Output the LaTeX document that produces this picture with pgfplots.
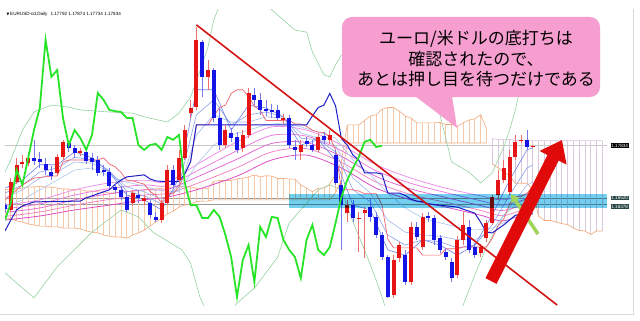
\documentclass[border=0pt]{standalone}
\usepackage{pgfplots}
\pgfplotsset{compat=1.18}
\usepackage{pgfplotstable}
\usetikzlibrary{arrows.meta,calc}
\usepackage{fontspec}
\setmainfont{Liberation Sans}
\newfontfamily\cjk{Noto Sans CJK JP}
\newfontfamily\dejavu{DejaVu Sans}

\definecolor{upc}{RGB}{230,20,20}
\definecolor{dnc}{RGB}{20,20,230}
\definecolor{upwick}{RGB}{238,110,110}
\definecolor{dnwick}{RGB}{120,120,238}
\definecolor{chikou}{RGB}{40,228,40}
\definecolor{kijun}{RGB}{30,30,200}
\definecolor{tenkan}{RGB}{240,100,110}
\definecolor{bband}{RGB}{150,210,160}
\definecolor{kumoup}{RGB}{245,200,170}
\definecolor{kumodn}{RGB}{218,200,222}
\definecolor{spanA}{RGB}{242,170,125}
\definecolor{spanB}{RGB}{216,190,216}
\definecolor{pk1}{RGB}{238,140,235}
\definecolor{pk2}{RGB}{235,120,222}
\definecolor{pk3}{RGB}{228,100,212}
\definecolor{pk4}{RGB}{242,130,195}
\definecolor{pk5}{RGB}{220,70,200}
\definecolor{bl1}{RGB}{110,130,230}
\definecolor{bl2}{RGB}{140,160,235}
\definecolor{bl3}{RGB}{160,185,240}
\definecolor{bl4}{RGB}{170,200,235}
\definecolor{bandc}{RGB}{115,207,240}
\definecolor{framec}{RGB}{150,150,150}
\definecolor{trend}{RGB}{210,20,20}
\definecolor{arrowred}{RGB}{225,10,10}
\definecolor{arrowgreen}{RGB}{160,212,90}
\definecolor{bubble}{RGB}{247,158,208}
\definecolor{boxdark}{RGB}{40,70,70}

\pgfplotsset{
  candle/.style={only marks, mark=none, mark size=0pt,
    mark options={draw=none, fill=none},
    error bars/.cd, y dir=plus, y explicit, error mark=none},
}

% daily bars: index, open, high, low, close
\pgfplotstableread{
i o h l c
1 1.1624 1.1703 1.1619 1.1693
2 1.1693 1.1753 1.1688 1.1736
3 1.1738 1.1760 1.1728 1.1743
4 1.1740 1.1768 1.1733 1.1753
9 1.1716 1.1763 1.1708 1.1755
10 1.1755 1.1798 1.1748 1.1793
13 1.1765 1.1778 1.1758 1.1770
22 1.1641 1.1674 1.1634 1.1666
24 1.1646 1.1661 1.1636 1.1654
27 1.1599 1.1649 1.1592 1.1641
28 1.1641 1.1736 1.1636 1.1723
30 1.1698 1.1773 1.1691 1.1753
31 1.1753 1.1835 1.1748 1.1822
32 1.1864 1.1897 1.1852 1.1877
33 1.1879 1.2078 1.1872 1.2046
35 1.1954 1.1996 1.1922 1.1971
38 1.1785 1.1835 1.1778 1.1822
41 1.1778 1.1822 1.1768 1.1810
42 1.1810 1.1926 1.1802 1.1914
48 1.1847 1.1862 1.1837 1.1852
51 1.1768 1.1798 1.1748 1.1785
54 1.1773 1.1815 1.1768 1.1805
56 1.1798 1.1822 1.1788 1.1810
59 1.1616 1.1649 1.1594 1.1636
61 1.1602 1.1619 1.1520 1.1604
62 1.1616 1.1631 1.1505 1.1624
67 1.1413 1.1512 1.1406 1.1500
68 1.1505 1.1545 1.1495 1.1537
70 1.1445 1.1594 1.1438 1.1582
72 1.1532 1.1616 1.1525 1.1607
78 1.1463 1.1559 1.1455 1.1550
79 1.1550 1.1619 1.1537 1.1587
82 1.1517 1.1540 1.1507 1.1532
83 1.1554 1.1599 1.1545 1.1592
84 1.1592 1.1661 1.1587 1.1656
85 1.1661 1.1723 1.1649 1.1698
86 1.1698 1.1748 1.1691 1.1728
87 1.1669 1.1773 1.1661 1.1755
88 1.1755 1.1810 1.1748 1.1793
89 1.1795 1.1810 1.1790 1.1798
91 1.1780 1.1785 1.1778 1.1783
}\upbars

\pgfplotstableread{
i o h l c
0 1.1636 1.1641 1.1619 1.1626
5 1.1753 1.1798 1.1736 1.1745
6 1.1750 1.1768 1.1728 1.1743
7 1.1738 1.1753 1.1711 1.1723
8 1.1718 1.1733 1.1698 1.1708
11 1.1790 1.1795 1.1768 1.1778
12 1.1778 1.1785 1.1753 1.1765
14 1.1768 1.1773 1.1738 1.1745
15 1.1753 1.1765 1.1723 1.1743
16 1.1748 1.1758 1.1708 1.1716
17 1.1723 1.1736 1.1708 1.1718
18 1.1718 1.1728 1.1678 1.1683
19 1.1681 1.1691 1.1666 1.1674
20 1.1674 1.1683 1.1649 1.1656
21 1.1656 1.1669 1.1619 1.1624
23 1.1661 1.1674 1.1641 1.1654
25 1.1641 1.1649 1.1604 1.1611
26 1.1607 1.1619 1.1594 1.1599
29 1.1723 1.1736 1.1678 1.1686
34 1.2041 1.2046 1.1904 1.1954
36 1.1971 1.1976 1.1842 1.1852
37 1.1852 1.1877 1.1773 1.1785
39 1.1815 1.1827 1.1793 1.1802
40 1.1805 1.1817 1.1765 1.1773
43 1.1909 1.1926 1.1884 1.1897
44 1.1897 1.1914 1.1860 1.1872
45 1.1874 1.1897 1.1857 1.1869
46 1.1872 1.1887 1.1852 1.1867
47 1.1872 1.1884 1.1847 1.1852
49 1.1852 1.1860 1.1778 1.1785
50 1.1780 1.1798 1.1748 1.1773
52 1.1795 1.1805 1.1780 1.1788
53 1.1785 1.1798 1.1768 1.1773
55 1.1807 1.1817 1.1788 1.1798
57 1.1760 1.1773 1.1686 1.1691
58 1.1686 1.1698 1.1525 1.1636
60 1.1636 1.1649 1.1594 1.1604
63 1.1631 1.1654 1.1594 1.1607
64 1.1607 1.1619 1.1554 1.1562
65 1.1562 1.1569 1.1500 1.1507
66 1.1507 1.1512 1.1406 1.1408
69 1.1512 1.1525 1.1438 1.1445
71 1.1582 1.1594 1.1550 1.1557
73 1.1609 1.1619 1.1594 1.1604
74 1.1604 1.1611 1.1537 1.1550
75 1.1554 1.1562 1.1517 1.1525
76 1.1520 1.1530 1.1500 1.1507
77 1.1495 1.1505 1.1445 1.1455
80 1.1582 1.1599 1.1517 1.1525
81 1.1532 1.1542 1.1505 1.1512
90 1.1798 1.1822 1.1773 1.1780
}\dnbars

% Ichimoku cloud per bar (lower and upper span), rising cloud
\pgfplotstableread{
i lo hi
0 1.1604 1.1674
1 1.1602 1.1676
2 1.1597 1.1676
3 1.1594 1.1678
4 1.1589 1.1681
5 1.1587 1.1681
6 1.1584 1.1683
7 1.1584 1.1681
8 1.1582 1.1681
9 1.1582 1.1678
10 1.1579 1.1676
11 1.1579 1.1676
12 1.1579 1.1674
13 1.1577 1.1674
14 1.1572 1.1671
15 1.1569 1.1671
16 1.1567 1.1669
17 1.1562 1.1669
18 1.1559 1.1666
19 1.1557 1.1666
20 1.1557 1.1669
21 1.1554 1.1669
22 1.1562 1.1671
23 1.1567 1.1671
24 1.1574 1.1674
25 1.1584 1.1676
26 1.1594 1.1676
27 1.1604 1.1678
28 1.1614 1.1678
29 1.1621 1.1681
30 1.1631 1.1683
31 1.1636 1.1681
32 1.1639 1.1681
33 1.1644 1.1678
34 1.1646 1.1677
35 1.1646 1.1677
36 1.1649 1.1695
37 1.1649 1.1697
38 1.1649 1.1697
39 1.1649 1.1697
40 1.1649 1.1701
41 1.1649 1.1703
42 1.1649 1.1706
43 1.1649 1.1711
44 1.1649 1.1706
45 1.1649 1.1709
46 1.1649 1.1708
47 1.1649 1.1702
48 1.1649 1.1702
49 1.1649 1.1701
50 1.1649 1.1700
51 1.1649 1.1686
52 1.1649 1.1678
53 1.1649 1.1669
54 1.1649 1.1678
55 1.1649 1.1678
56 1.1649 1.1688
57 1.1667 1.1713
58 1.1698 1.1744
59 1.1790 1.1835
60 1.1790 1.1835
61 1.1790 1.1835
62 1.1790 1.1846
63 1.1790 1.1857
64 1.1790 1.1860
65 1.1790 1.1874
66 1.1790 1.1878
67 1.1790 1.1878
68 1.1790 1.1869
69 1.1790 1.1857
70 1.1790 1.1852
71 1.1790 1.1840
72 1.1790 1.1840
73 1.1790 1.1840
74 1.1790 1.1840
75 1.1790 1.1841
76 1.1790 1.1836
77 1.1790 1.1836
78 1.1790 1.1832
79 1.1790 1.1840
80 1.1790 1.1847
81 1.1790 1.1850
82 1.1790 1.1860
83 1.1790 1.1827
}\kumoup

% falling cloud ahead of the last bar
\pgfplotstableread{
i lo hi
84 1.1738 1.1801
85 1.1729 1.1799
86 1.1717 1.1799
87 1.1709 1.1799
88 1.1690 1.1796
89 1.1690 1.1796
90 1.1690 1.1796
91 1.1675 1.1796
92 1.1609 1.1796
93 1.1598 1.1796
94 1.1598 1.1796
95 1.1594 1.1796
96 1.1590 1.1796
97 1.1588 1.1796
98 1.1579 1.1796
99 1.1573 1.1796
100 1.1572 1.1796
101 1.1563 1.1796
102 1.1572 1.1796
103 1.1572 1.1796
}\kumodn

% long-term moving averages
\pgfplotstableread{
i p1 p2 p3 p4 p5
0 1.1636 1.1627 1.1618 1.1608 1.1599
6 1.1649 1.1639 1.1629 1.1619 1.1609
12 1.1674 1.1661 1.1649 1.1636 1.1624
18 1.1691 1.1677 1.1664 1.1650 1.1636
24 1.1698 1.1686 1.1674 1.1661 1.1649
28 1.1693 1.1684 1.1675 1.1665 1.1656
33 1.1736 1.1720 1.1705 1.1689 1.1674
40 1.1793 1.1771 1.1750 1.1729 1.1708
46 1.1830 1.1809 1.1789 1.1768 1.1748
52 1.1822 1.1807 1.1791 1.1776 1.1760
58 1.1785 1.1771 1.1757 1.1742 1.1728
64 1.1736 1.1721 1.1707 1.1693 1.1678
70 1.1703 1.1690 1.1676 1.1662 1.1649
76 1.1678 1.1667 1.1655 1.1643 1.1631
82 1.1659 1.1647 1.1635 1.1623 1.1611
86 1.1649 1.1636 1.1623 1.1610 1.1597
91 1.1669 1.1657 1.1646 1.1635 1.1624
}\longma

% short-term moving averages
\pgfplotstableread{
i b1 b2 b3 b4
0 1.1678 1.1666 1.1654 1.1631
3 1.1698 1.1686 1.1674 1.1649
6 1.1736 1.1718 1.1703 1.1674
9 1.1736 1.1728 1.1718 1.1698
12 1.1768 1.1755 1.1743 1.1723
15 1.1753 1.1748 1.1740 1.1728
18 1.1718 1.1721 1.1718 1.1708
21 1.1661 1.1671 1.1681 1.1693
24 1.1649 1.1659 1.1669 1.1683
27 1.1624 1.1639 1.1651 1.1671
30 1.1703 1.1686 1.1674 1.1669
33 1.1922 1.1860 1.1810 1.1736
36 1.1922 1.1897 1.1860 1.1785
39 1.1822 1.1835 1.1842 1.1810
42 1.1884 1.1860 1.1842 1.1822
45 1.1877 1.1867 1.1855 1.1835
48 1.1855 1.1855 1.1852 1.1840
51 1.1785 1.1802 1.1815 1.1830
54 1.1798 1.1798 1.1802 1.1817
57 1.1748 1.1768 1.1783 1.1802
60 1.1636 1.1674 1.1703 1.1748
63 1.1624 1.1644 1.1666 1.1711
66 1.1525 1.1562 1.1599 1.1666
69 1.1512 1.1537 1.1569 1.1629
72 1.1550 1.1550 1.1562 1.1604
75 1.1537 1.1545 1.1559 1.1592
78 1.1512 1.1530 1.1550 1.1582
81 1.1537 1.1537 1.1550 1.1574
84 1.1611 1.1587 1.1574 1.1579
87 1.1698 1.1661 1.1629 1.1599
90 1.1773 1.1728 1.1686 1.1629
91 1.1778 1.1736 1.1693 1.1636
}\shortma

\begin{document}
\begin{tikzpicture}[x=1bp,y=1bp]

\begin{axis}[
  width=602bp, height=295.5bp, scale only axis,
  xmin=0, xmax=103.8, ymin=1.13883, ymax=1.21211,
  clip mode=individual,
  axis line style={draw=framec, line width=0.8bp},
  tick align=outside, major tick length=2.5bp,
  tick style={draw=framec, line width=0.5bp},
  xtick pos=left, ytick pos=right,
  xtick={0,6,...,90},
  xticklabels={9 Dec 2025,17 Dec 2025,26 Dec 2025,6 Jan 2026,14 Jan 2026,22 Jan 2026,30 Jan 2026,9 Feb 2026,17 Feb 2026,25 Feb 2026,5 Mar 2026,13 Mar 2026,23 Mar 2026,31 Mar 2026,8 Apr 2026,16 Apr 2026},
  xticklabel style={anchor=north west, inner sep=0pt, yshift=-0.5bp, font=\fontsize{4.6bp}{5bp}\selectfont, text=black!80},
  ytick={1.21075,1.20640,1.20200,1.19765,1.19330,1.18895,1.18460,1.18025,1.17590,1.17150,1.16715,1.16280,1.15845,1.15410,1.14975,1.14540,1.14105},
  yticklabels={1.21075,1.20640,1.20200,1.19765,1.19330,1.18895,1.18460,1.18025,1.17590,1.17150,1.16715,1.16280,1.15845,1.15410,1.14975,1.14540,1.14105},
  yticklabel pos=right,
  yticklabel style={anchor=west, inner sep=0pt, xshift=1.5bp, font=\fontsize{4.6bp}{5bp}\selectfont, text=black!80},
]
\coordinate (F) at (rel axis cs:0,0);
% white page behind the chart (640 x 320, plot corner at 5,15)
\fill[white] ($(rel axis cs:0,0)+(-5bp,-15bp)$) rectangle ++(640bp,320bp);

% price levels
\addplot[draw=black!22, line width=0.6bp] coordinates {(0,1.17834) (103.8,1.17834)};
\addplot[draw=black!40, line width=0.6bp] coordinates {(0,1.16520) (103.8,1.16520)};
\addplot[draw=black!40, line width=0.6bp] coordinates {(0,1.16378) (103.8,1.16378)};

% Ichimoku cloud: one hatch stroke per bar, then the span outlines
\addplot[candle, error bar style={line width=0.8bp, draw=kumoup}]
  table[x=i, y=lo, y error plus expr=\thisrow{hi}-\thisrow{lo}] {\kumoup};
\addplot[candle, error bar style={line width=0.8bp, draw=kumodn}]
  table[x=i, y=lo, y error plus expr=\thisrow{hi}-\thisrow{lo}] {\kumodn};
\addplot[draw=spanA, line width=0.6bp] table[x=i, y=hi] {\kumoup};
\addplot[draw=spanA, line width=0.6bp] table[x=i, y=lo] {\kumoup};
\addplot[draw=spanB, line width=0.6bp] table[x=i, y=hi] {\kumodn};
\addplot[draw=spanA, line width=0.7bp] table[x=i, y=lo] {\kumodn};

% Bollinger bands
\addplot[draw=bband, line width=0.6bp] coordinates {(0,1.1718) (1,1.1748) (3,1.1822) (5,1.1867) (8,1.1884) (11,1.1879) (13,1.1872) (18,1.1867) (22,1.1864) (24,1.1855) (28,1.1842) (30,1.1864) (32,1.1904) (33.5,1.1964) (35,1.2028) (36,1.2095) (37,1.2132) (38,1.2170) (42,1.2182) (44,1.2157) (46,1.2120) (50,1.2070) (52,1.2065) (53,1.2016) (55,1.1959) (56,1.1954) (57,1.1984) (58,1.2008) (61,1.2021) (66,1.1996) (72,1.1922) (75,1.1860) (77,1.1743) (80,1.1718) (82,1.1691) (84,1.1716) (86,1.1780) (87,1.1822) (88,1.1872) (90,1.2003) (91,1.2095)};
\addplot[draw=bband, line width=0.6bp] coordinates {(0,1.1468) (5,1.1406) (9,1.1483) (15,1.1569) (20,1.1624) (23,1.1607) (25.5,1.1569) (30.5,1.1525) (32,1.1492) (33.6,1.1408) (35,1.1364) (38,1.1351) (40,1.1393) (43,1.1430) (47,1.1507) (49,1.1592) (51,1.1624) (54,1.1674) (56,1.1686) (58,1.1674) (60,1.1594) (62,1.1525) (64,1.1450) (65,1.1408) (66,1.1364) (70,1.1326) (78,1.1351) (81,1.1463) (83,1.1532) (86,1.1611) (88,1.1636) (91,1.1661)};

% moving average ribbons
\addplot[draw=pk1, line width=0.75bp, smooth] table[x=i, y=p1] {\longma};
\addplot[draw=pk2, line width=0.75bp, smooth] table[x=i, y=p2] {\longma};
\addplot[draw=pk3, line width=0.75bp, smooth] table[x=i, y=p3] {\longma};
\addplot[draw=pk4, line width=0.75bp, smooth] table[x=i, y=p4] {\longma};
\addplot[draw=pk5, line width=0.75bp, smooth] table[x=i, y=p5] {\longma};
\addplot[draw=bl4, line width=0.6bp] table[x=i, y=b4] {\shortma};
\addplot[draw=bl3, line width=0.6bp] table[x=i, y=b3] {\shortma};
\addplot[draw=bl2, line width=0.6bp] table[x=i, y=b2] {\shortma};
\addplot[draw=bl1, line width=0.6bp] table[x=i, y=b1] {\shortma};

% Tenkan-sen
\addplot[draw=tenkan, line width=0.7bp] coordinates {(0,1.1649) (3,1.1686) (5,1.1703) (8,1.1708) (9,1.1708) (10,1.1743) (11,1.1748) (16,1.1748) (17,1.1753) (18,1.1738) (19,1.1731) (20,1.1717) (21,1.1698) (22,1.1696) (23,1.1692) (24,1.1688) (25,1.1670) (26,1.1661) (27,1.1641) (28,1.1664) (29,1.1664) (30,1.1682) (31,1.1713) (32,1.1744) (33,1.1835) (35,1.1835) (36,1.1857) (37,1.1878) (38,1.1884) (39,1.1913) (40,1.1922) (41,1.1922) (42,1.1905) (43,1.1881) (44,1.1871) (45,1.1846) (48,1.1846) (49,1.1847) (50,1.1837) (51,1.1837) (52,1.1831) (53,1.1822) (54,1.1817) (55,1.1816) (56,1.1805) (57,1.1773) (58,1.1674) (60,1.1674) (61,1.1671) (62,1.1664) (64,1.1664) (65,1.1636) (66,1.1552) (67,1.1530) (71,1.1530) (72,1.1512) (75,1.1512) (76,1.1528) (78,1.1528) (79,1.1532) (83,1.1532) (84,1.1553) (85,1.1584) (86,1.1602) (87,1.1639) (88,1.1657) (89,1.1657) (90,1.1665) (91,1.1683)};

% Kijun-sen
\addplot[draw=kijun, line width=1bp] coordinates {(0,1.1572) (1,1.1599) (2,1.1624) (3,1.1634) (5,1.1644) (13,1.1646) (14,1.1654) (17,1.1669) (18,1.1674) (19,1.1688) (20,1.1698) (21,1.1706) (24,1.1711) (25,1.1701) (26,1.1696) (27,1.1695) (30,1.1695) (31,1.1713) (32,1.1744) (33,1.1835) (52,1.1835) (53,1.1857) (54,1.1878) (55,1.1884) (56,1.1913) (57,1.1882) (58,1.1801) (59,1.1785) (60,1.1760) (61,1.1748) (62,1.1716) (64,1.1716) (65,1.1713) (66,1.1666) (68,1.1666) (69,1.1660) (70,1.1651) (71,1.1646) (72,1.1645) (73,1.1639) (75,1.1636) (78,1.1631) (81,1.1616) (82,1.1594) (83,1.1569) (84,1.1567) (85,1.1577) (86,1.1587) (87,1.1599) (88,1.1611) (89,1.1611) (90,1.1614) (91,1.1614)};

% candlesticks: wicks then bodies
\addplot[candle, error bar style={line width=0.8bp, draw=upwick}]
  table[x=i, y=l, y error plus expr=\thisrow{h}-\thisrow{l}] {\upbars};
\addplot[candle, error bar style={line width=0.8bp, draw=dnwick}]
  table[x=i, y=l, y error plus expr=\thisrow{h}-\thisrow{l}] {\dnbars};
\addplot[candle, error bar style={line width=4bp, draw=upc}]
  table[x=i, y=o, y error plus expr=\thisrow{c}-\thisrow{o}] {\upbars};
\addplot[candle, error bar style={line width=4bp, draw=dnc}]
  table[x=i, y=c, y error plus expr=\thisrow{o}-\thisrow{c}] {\dnbars};

% support zone
\fill[bandc, blend mode=multiply] (axis cs:49,1.1628) rectangle (axis cs:103.8,1.1663);

% Chikou span
\addplot[draw=chikou, line width=1.8bp] coordinates {(0,1.1599) (1,1.1641) (2,1.1723) (3,1.1686) (4,1.1753) (5,1.1822) (6,1.1877) (7,1.2046) (8,1.1954) (9,1.1971) (10,1.1852) (11,1.1785) (12,1.1822) (13,1.1802) (14,1.1773) (15,1.1810) (16,1.1914) (17,1.1897) (18,1.1872) (19,1.1869) (20,1.1867) (21,1.1852) (22,1.1852) (23,1.1785) (24,1.1773) (25,1.1785) (26,1.1788) (27,1.1773) (28,1.1805) (29,1.1798) (30,1.1810) (31,1.1691) (32,1.1636) (33,1.1636) (34,1.1604) (35,1.1604) (36,1.1624) (37,1.1607) (38,1.1562) (39,1.1507) (40,1.1408) (41,1.1500) (42,1.1537) (43,1.1445) (44,1.1582) (45,1.1557) (46,1.1607) (47,1.1604) (48,1.1550) (49,1.1525) (50,1.1507) (51,1.1455) (52,1.1550) (53,1.1587) (54,1.1525) (55,1.1512) (56,1.1532) (57,1.1592) (58,1.1656) (59,1.1698) (60,1.1728) (61,1.1755) (62,1.1793) (63,1.1798) (64,1.1780) (65,1.1783)};

% falling trend line from the January high
\addplot[draw=trend, line width=1.6bp] coordinates {(33,1.2083) (95.2,1.13883)};
\end{axis}

% everything else is laid out on a 640 x 320 grid whose (5,15) is the plot's lower-left corner
\begin{scope}[shift={($(F)-(5,15)$)}]
\draw[black!15, line width=0.6] (0.3,6) -- (633,6) -- (633,311);

% header
\node[anchor=west, inner sep=0pt, font=\fontsize{4.6bp}{5bp}\selectfont] at (6.5,306) {{\dejavu\fontsize{3.6bp}{4bp}\selectfont ▼}\,EURUSD-cd,Daily\hspace{3bp}1.17792 1.17874 1.17734 1.17834};

% price tags
\node[anchor=west, fill=black, text=white, inner sep=0.7bp, font=\fontsize{4.6bp}{5bp}\selectfont] at (610.5,174.3) {1.17834};
\node[anchor=west, fill=boxdark, text=white, inner sep=0.7bp, font=\fontsize{4.6bp}{5bp}\selectfont] at (610.5,122) {1.16520};
\node[anchor=west, fill=boxdark, text=white, inner sep=0.7bp, font=\fontsize{4.6bp}{5bp}\selectfont] at (610.5,113.5) {1.16378};

% arrows
\draw[arrowgreen, line width=3.5, -{Triangle[width=9,length=8]}] (538,86) -- (511,126);
\draw[arrowred, line width=12.5, -{Triangle[width=29,length=20]}] (491,39) -- (562,180);

% speech bubble
\fill[bubble, rounded corners=10] (342,223) rectangle (600,303);
\fill[bubble] (415,224) -- (457,192) -- (452,224) -- cycle;
\node[align=center, inner sep=0pt, font=\cjk\fontsize{17bp}{20.5bp}\selectfont] at (476,261) {ユーロ/米ドルの底打ちは\\確認されたので、\\あとは押し目を待つだけである};

\pgfresetboundingbox
\useasboundingbox (0,0) rectangle (640,320);
\end{scope}
\end{tikzpicture}
\end{document}
